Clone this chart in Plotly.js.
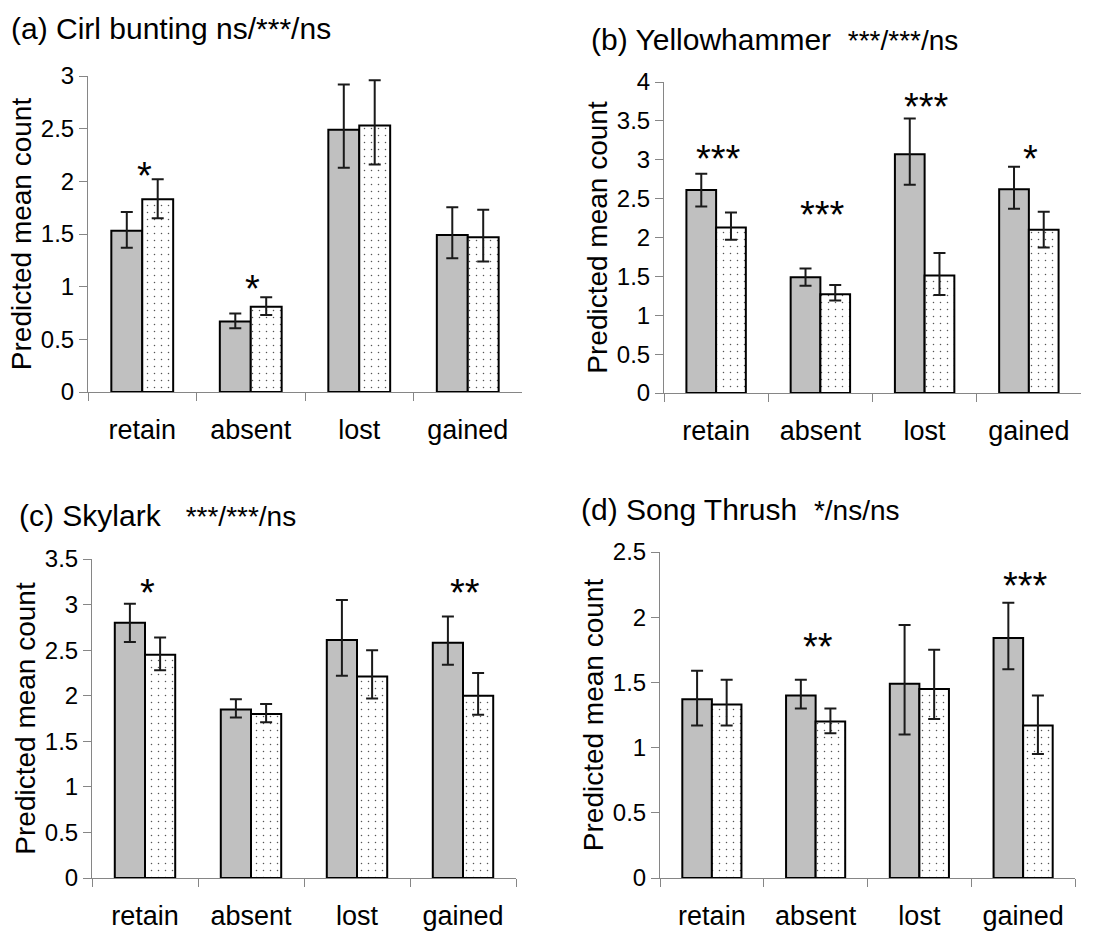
<!DOCTYPE html>
<html>
<head>
<meta charset="utf-8">
<script src="https://cdn.plot.ly/plotly-3.0.1.min.js"></script>
<style>html,body{margin:0;padding:0;background:#fff;}#chart{width:1102px;height:932px;}</style>
</head>
<body>
<div id="chart"></div>
<script>
// ---- data ----
const categories = ['retain', 'absent', 'lost', 'gained'];

// (a) Cirl bunting
const a_grey    = [1.53, 0.67, 2.49, 1.49];
const a_grey_hi = [1.71, 0.745, 2.92, 1.755];
const a_grey_lo = [1.37, 0.605, 2.13, 1.27];
const a_dot     = [1.83, 0.81, 2.53, 1.47];
const a_dot_hi  = [2.02, 0.90, 2.96, 1.73];
const a_dot_lo  = [1.65, 0.73, 2.16, 1.24];
const a_stars   = ['*', '*', '', ''];
const a_star_y  = [2.14, 1.06, null, null];

// (b) Yellowhammer
const b_grey    = [2.61, 1.49, 3.07, 2.62];
const b_grey_hi = [2.82, 1.60, 3.53, 2.91];
const b_grey_lo = [2.40, 1.38, 2.68, 2.37];
const b_dot     = [2.13, 1.27, 1.51, 2.10];
const b_dot_hi  = [2.32, 1.39, 1.80, 2.33];
const b_dot_lo  = [1.97, 1.19, 1.26, 1.87];
const b_stars   = ['***', '***', '***', '*'];
const b_star_y  = [3.12, 2.41, 3.80, 3.12];

// (c) Skylark
const c_grey    = [2.80, 1.85, 2.61, 2.58];
const c_grey_hi = [3.01, 1.96, 3.05, 2.87];
const c_grey_lo = [2.59, 1.76, 2.22, 2.34];
const c_dot     = [2.45, 1.80, 2.21, 2.00];
const c_dot_hi  = [2.64, 1.91, 2.50, 2.25];
const c_dot_lo  = [2.28, 1.71, 1.97, 1.79];
const c_stars   = ['*', '', '', '**'];
const c_star_y  = [3.23, null, null, 3.23];

// (d) Song Thrush
const d_grey    = [1.37, 1.40, 1.49, 1.84];
const d_grey_hi = [1.59, 1.52, 1.94, 2.11];
const d_grey_lo = [1.17, 1.30, 1.10, 1.60];
const d_dot     = [1.33, 1.20, 1.45, 1.17];
const d_dot_hi  = [1.52, 1.30, 1.75, 1.40];
const d_dot_lo  = [1.17, 1.11, 1.22, 0.95];
const d_stars   = ['', '**', '', '***'];
const d_star_y  = [null, 1.84, null, 2.31];

const titles = [
  {main: '(a) Cirl bunting ns/***/ns', sub: ''},
  {main: '(b) Yellowhammer\u00a0\u00a0', sub: '***/***/ns'},
  {main: '(c) Skylark\u00a0\u00a0\u00a0', sub: '***/***/ns'},
  {main: '(d) Song Thrush\u00a0\u00a0', sub: '*/ns/ns'}
];
const yRanges = [[0, 3], [0, 4], [0, 3.5], [0, 2.5]];
const yTitle = 'Predicted mean count';

// ---- layout geometry (pixels) ----
const W = 1102, H = 932;
const panels = [
  {x0: 88,  x1: 522,  yTop: 76,  yBot: 392, titleX: 9,   titleY: 28},
  {x0: 664, x1: 1081, yTop: 82,  yBot: 393, titleX: 589, titleY: 40},
  {x0: 92,  x1: 516,  yTop: 559, yBot: 878, titleX: 17,  titleY: 515},
  {x0: 660, x1: 1075, yTop: 552, yBot: 878, titleX: 579, titleY: 509}
];

const sets = [
  [a_grey, a_grey_hi, a_grey_lo, a_dot, a_dot_hi, a_dot_lo, a_stars, a_star_y],
  [b_grey, b_grey_hi, b_grey_lo, b_dot, b_dot_hi, b_dot_lo, b_stars, b_star_y],
  [c_grey, c_grey_hi, c_grey_lo, c_dot, c_dot_hi, c_dot_lo, c_stars, c_star_y],
  [d_grey, d_grey_hi, d_grey_lo, d_dot, d_dot_hi, d_dot_lo, d_stars, d_star_y]
];

const FONT = 'Arial, "Liberation Sans", sans-serif';
const AXC = '#868686';
const traces = [];
const annotations = [];
const layout = {
  width: W, height: H,
  margin: {l: 0, r: 0, t: 0, b: 0},
  paper_bgcolor: '#fff', plot_bgcolor: '#fff',
  showlegend: false,
  barmode: 'group', bargap: 0.43, bargroupgap: 0,
  font: {family: FONT, color: '#000'},
  annotations: annotations
};

sets.forEach((s, i) => {
  const [g, ghi, glo, d, dhi, dlo, stars, starY] = s;
  const n = i + 1;
  const xa = n === 1 ? 'x' : 'x' + n;
  const ya = n === 1 ? 'y' : 'y' + n;
  const err = (hi, lo, v) => ({
    type: 'data', symmetric: false,
    array: hi.map((h, k) => h - v[k]), arrayminus: v.map((m, k) => m - lo[k]),
    color: '#1a1a1a', thickness: 2, width: 6
  });
  traces.push({
    type: 'bar', x: categories, y: g, xaxis: xa, yaxis: ya,
    marker: {color: '#c0c0c0', line: {color: '#000', width: 2}},
    error_y: err(ghi, glo, g), hoverinfo: 'y'
  });
  traces.push({
    type: 'bar', x: categories, y: d, xaxis: xa, yaxis: ya,
    marker: {color: '#fff', line: {color: '#000', width: 2},
      pattern: {shape: '.', fgcolor: '#555', bgcolor: '#fff', size: 7, solidity: 0.035, fillmode: 'replace'}},
    error_y: err(dhi, dlo, d), hoverinfo: 'y'
  });
  const p = panels[i];
  layout['xaxis' + (n === 1 ? '' : n)] = {
    domain: [p.x0 / W, p.x1 / W], anchor: ya,
    type: 'category', range: [-0.5, 3.5],
    showline: true, linecolor: AXC, linewidth: 1,
    ticks: 'outside', tickson: 'boundaries', ticklen: 8, tickcolor: AXC, tickwidth: 1,
    showgrid: false, zeroline: false,
    tickfont: {family: FONT, size: 27, color: '#000'},
    ticklabelstandoff: 14, fixedrange: true
  };
  layout['yaxis' + (n === 1 ? '' : n)] = {
    domain: [(H - p.yBot) / H, (H - p.yTop) / H], anchor: xa,
    range: yRanges[i], dtick: 0.5, tick0: 0,
    showline: true, linecolor: AXC, linewidth: 1,
    ticks: 'outside', ticklen: 8, tickcolor: AXC, tickwidth: 1,
    showgrid: false, zeroline: false,
    tickfont: {family: FONT, size: 24, color: '#000'},
    title: {text: yTitle, font: {family: FONT, size: 28, color: '#000'}, standoff: 1},
    fixedrange: true
  };
  // significance stars
  stars.forEach((st, k) => {
    if (!st) return;
    annotations.push({
      xref: xa, yref: ya, x: categories[k], y: starY[k],
      text: st, showarrow: false, xanchor: 'center', yanchor: 'middle',
      yshift: -9, xshift: 2,
      font: {family: FONT, size: 38, color: '#000'}
    });
  });
  // panel titles
  const t = titles[i];
  annotations.push({
    xref: 'paper', yref: 'paper', x: p.titleX / W, y: (H - p.titleY) / H,
    xanchor: 'left', yanchor: 'middle', showarrow: false,
    text: t.main + (t.sub ? '<span style="font-size:28px">' + t.sub + '</span>' : ''),
    font: {family: FONT, size: 30, color: '#000'}
  });
});

Plotly.newPlot('chart', traces, layout, {staticPlot: true, displayModeBar: false});
</script>
</body>
</html>
